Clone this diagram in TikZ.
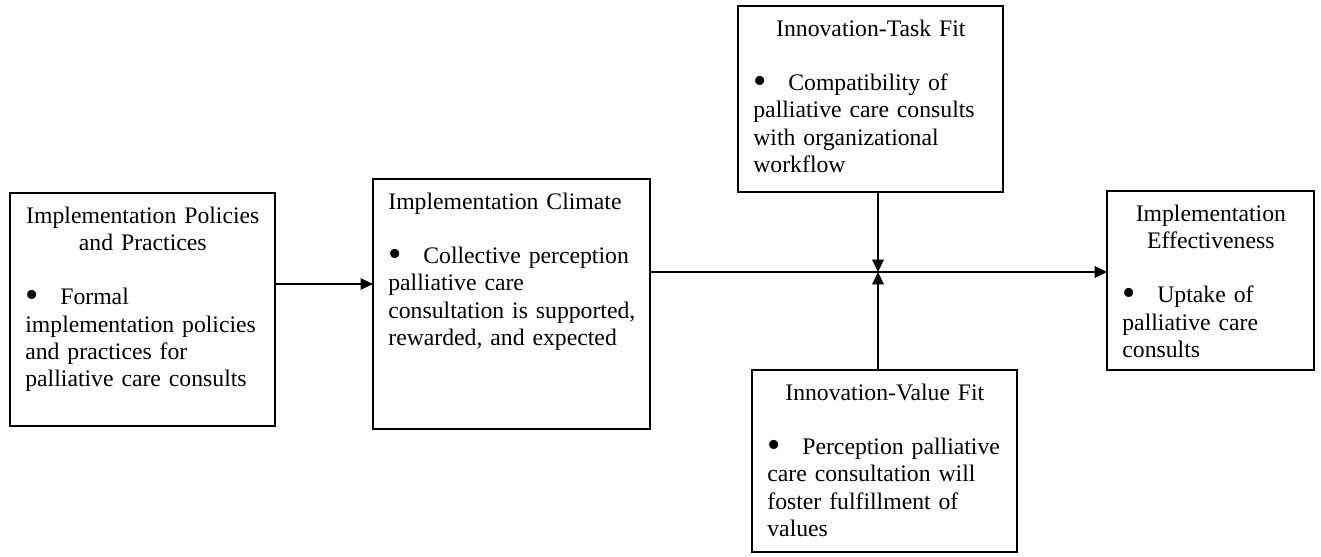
\documentclass[tikz,border=0pt]{standalone}
\usepackage{fontspec}
\setmainfont{Liberation Serif}
\usetikzlibrary{arrows.meta,positioning}
\tikzset{
  box/.style={draw,line width=0.8pt,anchor=north west,inner sep=0pt,outer sep=0pt},
  txt/.style={anchor=north west,inner sep=0pt,text width=#1,
    font=\fontsize{13.5}{15.4}\selectfont},
  arr/.style={-{Triangle[length=2.5mm,width=2.3mm]},line width=1.1pt},
}
\newcommand{\bul}{\makebox[7mm][l]{\raisebox{-0.12em}{\scalebox{1.6}{\textbullet}}}}
\newcommand{\gap}{\par\vspace{\baselineskip}\raggedright}

\begin{document}
\begin{tikzpicture}[x=0.02cm,y=-0.02cm]
  \useasboundingbox (0,0) rectangle (1321,557);

  % frames
  \node[box,minimum width=5.3cm,minimum height=4.66cm] (pp) at (10,193) {};
  \node[box,minimum width=5.54cm,minimum height=5cm] (clim) at (373,179) {};
  \node[box,minimum width=5.3cm,minimum height=3.72cm] (task) at (738,6) {};
  \node[box,minimum width=5.3cm,minimum height=3.64cm] (value) at (752,370) {};
  \node[box,minimum width=4.14cm,minimum height=3.58cm] (eff) at (1107,191) {};

  % texts
  \node[txt=4.7cm] (pp-t) at ([xshift=3mm,yshift=-2.8mm]pp.north west)
    {{\centering Implementation Policies\\ and Practices\par}\gap
     \bul Formal\\ implementation policies\\ and practices for\\ palliative care consults};
  \node[txt=5.2cm] (clim-t) at ([xshift=3mm,yshift=-2.8mm]clim.north west)
    {Implementation Climate\gap
     \bul Collective perception\\ palliative care\\ consultation is supported,\\ rewarded, and expected};
  \node[txt=4.7cm] (task-t) at ([xshift=3mm,yshift=-2.8mm]task.north west)
    {{\centering Innovation-Task Fit\par}\gap
     \bul Compatibility of\\ palliative care consults\\ with organizational\\ workflow};
  \node[txt=4.7cm] (value-t) at ([xshift=3mm,yshift=-2.8mm]value.north west)
    {{\centering Innovation-Value Fit\par}\gap
     \bul Perception palliative\\ care consultation will\\ foster fulfillment of\\ values};
  \node[txt=3.54cm] (eff-t) at ([xshift=3mm,yshift=-2.8mm]eff.north west)
    {{\centering Implementation\\ Effectiveness\par}\gap
     \bul Uptake of\\ palliative care\\ consults};

  % connectors
  \coordinate (row) at (0,284);
  \coordinate (j) at (878,272);
  \draw[arr] (pp.east |- row) -- (clim.west |- row);
  \draw[arr] (clim.east |- j) -- (eff.west |- j);
  \draw[arr] (task.south -| j) -- (j);
  \draw[arr] (value.north -| j) -- (j);
\end{tikzpicture}
\end{document}
